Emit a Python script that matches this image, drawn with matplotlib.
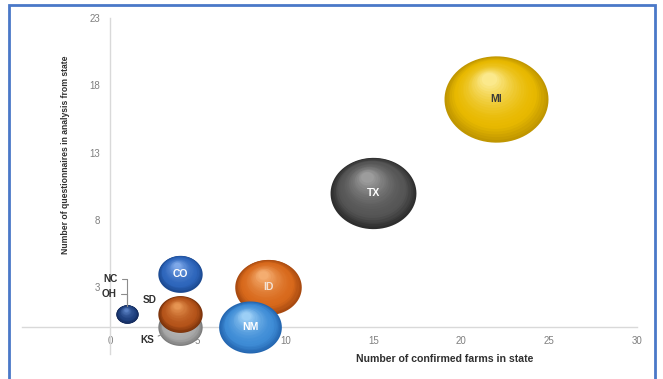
import numpy as np
import matplotlib
matplotlib.use("Agg")
import matplotlib.pyplot as plt
from matplotlib.path import Path
from matplotlib.patches import Rectangle
from matplotlib.transforms import offset_copy

# farms confirmed vs questionnaires returned, bubble size = farms
states = ["KS", "SD", "CO", "NC", "OH", "ID", "NM", "TX", "MI"]
farms = [4, 4, 4, 1, 1, 9, 8, 15, 22]
questionnaires = [0, 1, 4, 1, 1, 3, 0, 10, 17]
bubble_size = [4, 4, 4, 1, 1, 9, 8, 15, 22]

# rim, body and highlight colour for each state
shade = {
    "MI": ("#c09600", "#e8b900", "#fbe98c"),
    "TX": ("#2e2e2e", "#555555", "#9c9c9c"),
    "ID": ("#a84a10", "#d8691c", "#f4ad70"),
    "NM": ("#2466b0", "#3e8cd6", "#9ccff6"),
    "CO": ("#1c4a92", "#2e66bc", "#7ea8e8"),
    "SD": ("#7a320a", "#b5541a", "#e69452"),
    "KS": ("#7a7a7a", "#a8a8a8", "#e8e8e8"),
    "NC": ("#13295a", "#1f407e", "#5a80c4"),
    "OH": ("#13295a", "#1f407e", "#5a80c4"),
}
inner_label = {"MI": "#3a3a3a", "TX": "white", "ID": "#f3e3d6",
               "NM": "white", "CO": "white"}

plt.rcParams["font.family"] = ["Liberation Sans", "DejaVu Sans"]

fig = plt.figure(figsize=(6.63, 3.79), dpi=100)
ax = fig.add_axes([22 / 663, 1 - 354.3 / 379, 615 / 663, (354.3 - 18) / 379])
ax.set_xlim(-5, 30)
ax.set_ylim(-2, 23)

# squashed ellipse marker, the bubbles look slightly flattened
th = np.linspace(0, 2 * np.pi, 80)
ell = Path(np.column_stack([np.cos(th), 0.83 * np.sin(th)]), closed=True)

s_per_unit = 255.0


def mix(c1, c2, t):
    a = np.array(matplotlib.colors.to_rgb(c1))
    b = np.array(matplotlib.colors.to_rgb(c2))
    return tuple(a + (b - a) * t)


def sphere_colour(st, t):
    rim, body, hi = shade[st]
    if t < 0.25:
        return mix(rim, body, t / 0.25)
    return mix(body, hi, ((t - 0.25) / 0.75) ** 1.6)


for st, x, y, b in zip(states, farms, questionnaires, bubble_size):
    s = s_per_unit * b
    r_px = np.sqrt(s) * 100 / 72 / 2
    n = 22
    for k in range(n):
        t = k / (n - 1)
        f = 1 - 0.85 * t
        dx = -0.15 * r_px * t
        dy = 0.83 * r_px * 0.45 * t
        tr = offset_copy(ax.transData, fig=fig, x=dx, y=dy, units="dots")
        ax.scatter([x], [y], s=s * f ** 2, marker=ell, color=sphere_colour(st, t),
                   linewidths=0, transform=tr, zorder=3)

# labels inside the big bubbles
for st, x, y in zip(states, farms, questionnaires):
    if st in inner_label:
        ax.text(x, y, st, ha="center", va="center", fontsize=7.5, fontweight="bold",
                color=inner_label[st], zorder=5)

lab_kw = dict(fontsize=7.2, fontweight="bold", color="#303030", zorder=5)
line_kw = dict(arrowstyle="-", color="#8c8c8c", lw=0.8)
ax.annotate("NC", xy=(1, 1), xytext=(-17, 35), textcoords="offset pixels",
            ha="center", va="center", arrowprops=dict(connectionstyle="angle,angleA=0,angleB=90,rad=0",
                                                      shrinkA=1, shrinkB=6, **line_kw), **lab_kw)
ax.annotate("OH", xy=(1, 1), xytext=(-18, 20), textcoords="offset pixels",
            ha="center", va="center", arrowprops=dict(connectionstyle="angle,angleA=0,angleB=90,rad=0",
                                                      shrinkA=1, shrinkB=6, **line_kw), **lab_kw)
ax.annotate("SD", xy=(4, 1), xytext=(-31, 14), textcoords="offset pixels",
            ha="center", va="center", **lab_kw)
ax.annotate("KS", xy=(4, 0), xytext=(-33, -13), textcoords="offset pixels",
            ha="center", va="center", arrowprops=dict(shrinkA=1, shrinkB=14, **line_kw), **lab_kw)

# axes cross at zero, light grey lines, no tick marks
for side in ["top", "right"]:
    ax.spines[side].set_visible(False)
ax.spines["left"].set_position(("data", 0))
ax.spines["bottom"].set_position(("data", 0))
for side in ["left", "bottom"]:
    ax.spines[side].set_color("#d9d9d9")
    ax.spines[side].set_linewidth(1.0)
ax.set_xticks(range(0, 31, 5))
ax.set_yticks(range(-2, 24, 5))
ax.set_yticklabels(["" if v < 0 else str(v) for v in range(-2, 24, 5)])
ax.tick_params(length=0, labelsize=7, colors="#7f7f7f", pad=6)
ax.tick_params(axis="y", pad=7)

fig.text(445 / 663, 1 - 359 / 379, "Number of confirmed farms in state", ha="center",
         va="center", fontsize=7.6, fontweight="bold", color="#303030")
fig.text(66 / 663, 1 - 155 / 379, "Number of questionnaires in analysis from state",
         ha="center", va="center", rotation=90, fontsize=6.2, fontweight="bold", color="#303030")

# blue frame round the chart
fig.add_artist(Rectangle((9 / 663, -0.02), 646 / 663, 1 - 5 / 379 + 0.02,
                         transform=fig.transFigure, fill=False, edgecolor="#4a78c8", lw=2))

fig.savefig("out.png", dpi=100)
